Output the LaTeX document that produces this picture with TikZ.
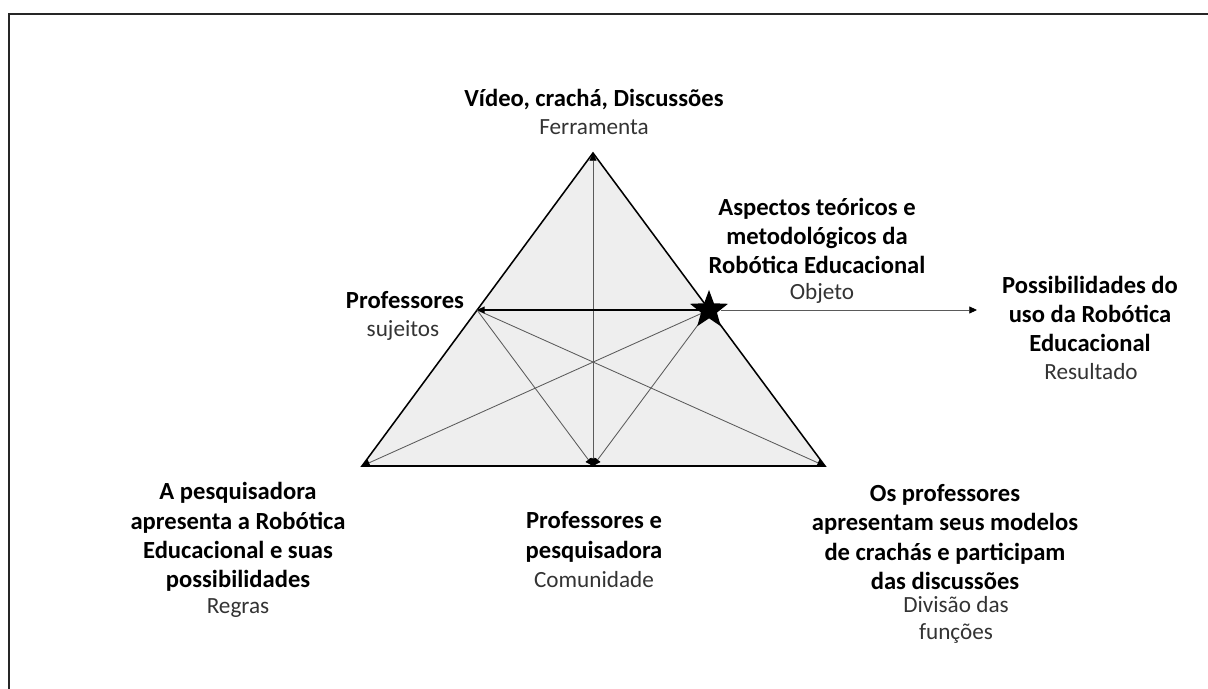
\documentclass[tikz,border=0pt]{standalone}
\usepackage{fontspec}
\setmainfont{Carlito}
\usetikzlibrary{arrows.meta,shapes.geometric}
\definecolor{fillgray}{HTML}{EEEEEE}
\definecolor{linegray}{HTML}{5A5A5A}
\tikzset{
	bold_lbl/.style={align=center, font=\fontsize{17.5}{20.8}\selectfont\bfseries},
	role_lbl/.style={align=center, text=black!80, font=\fontsize{16.5}{19.5}\selectfont},
	cross/.style={draw=linegray, line width=0.6pt},
	tiny_tip/.style={-{Triangle[length=5.5pt,width=5pt,color=black]}}
}

\begin{document}
\begin{tikzpicture}[x=0.025cm, y=-0.025cm]
        \useasboundingbox (0,0) rectangle (1208,689);
        \draw[line width=1.5pt, black!85] (9,689) -- (9,14) -- (1208,14);
        \coordinate (tool_T) at (593,153);
        \coordinate (rules_T) at (362,466);
        \coordinate (division_T) at (825,466);
        \coordinate (community_T) at (593,466);
        \coordinate (subject_T) at (477,310);
        \coordinate (object_T) at (709,310);
        \coordinate (result_T) at (977,310);
        \filldraw[fill=fillgray, line width=1.1pt] (tool_T) -- (rules_T) -- (division_T) -- cycle;
        \draw[cross, {Triangle[length=5.5pt,width=5pt,color=black]}-{Triangle[length=5.5pt,width=5pt,color=black]}] (community_T) -- (tool_T);
        \draw[cross, tiny_tip] (subject_T) -- (community_T);
        \draw[cross, tiny_tip] (subject_T) -- (division_T);
        \draw[cross, tiny_tip] (object_T) -- (rules_T);
        \draw[cross, tiny_tip] (object_T) -- (community_T);
        \draw[line width=0.8pt, tiny_tip] (object_T) -- (subject_T);
        \node[star, star points=5, star point ratio=2.4, fill=black, inner sep=0pt, minimum size=1cm] (star_T) at (object_T) {};
        \draw[cross, tiny_tip] (star_T) -- (result_T);
        \node[bold_lbl] (tool_lbl) at (594,100) {Vídeo, crachá, Discussões};
        \node[role_lbl] (tool_role) at (594,127) {Ferramenta};
        \node[bold_lbl] (object_lbl) at (817,236) {Aspectos teóricos e\\metodológicos da\\Robótica Educacional};
        \node[role_lbl] (object_role) at (822,293) {Objeto};
        \node[bold_lbl] (result_lbl) at (1090,314) {Possibilidades do\\uso da Robótica\\Educacional};
        \node[role_lbl] (result_role) at (1091,372) {Resultado};
        \node[bold_lbl] (subject_lbl) at (405,300) {Professores};
        \node[role_lbl] (subject_role) at (403,331) {sujeitos};
        \node[bold_lbl] (rules_lbl) at (238,537) {A pesquisadora\\apresenta a Robótica\\Educacional e suas\\possibilidades};
        \node[role_lbl] (rules_role) at (238,608) {Regras};
        \node[bold_lbl] (community_lbl) at (594,537) {Professores e\\pesquisadora};
        \node[role_lbl] (community_role) at (594,580) {Comunidade};
        \node[bold_lbl] (division_lbl) at (945,537) {Os professores\\apresentam seus modelos\\de crachás e participam\\das discussões};
        \node[role_lbl] (division_role) at (956,620) {Divisão das\\funções};
    \end{tikzpicture}
\end{document}
